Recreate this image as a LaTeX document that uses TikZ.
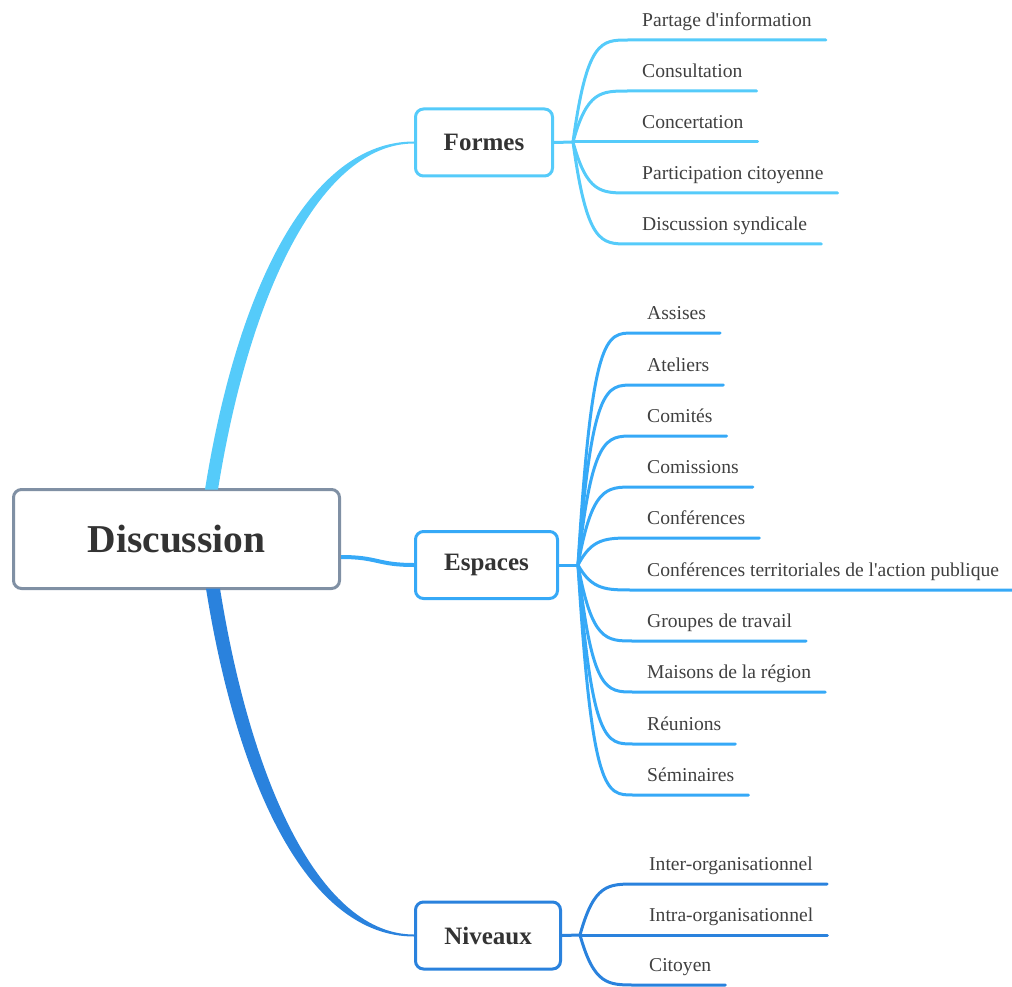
\documentclass[tikz,border=0pt]{standalone}
\usepackage{fontspec}
\setmainfont{Liberation Serif}
\usetikzlibrary{calc}
\definecolor{cF}{HTML}{55CBFA}
\definecolor{cE}{HTML}{36A9F7}
\definecolor{cN}{HTML}{2A82DD}
\definecolor{cD}{HTML}{8090A4}
\definecolor{txt}{HTML}{333333}
\definecolor{txtl}{HTML}{404040}
\begin{document}
\begin{tikzpicture}[x=1pt,y=-1pt,
  root/.style={draw=cD, line width=3pt, rounded corners=8pt, fill=white,
    minimum width=326pt, minimum height=99pt,
    font=\fontsize{39.5}{42}\selectfont\bfseries, text=txt},
  mainbox/.style={line width=3pt, rounded corners=8pt, fill=white,
    minimum height=67pt, font=\fontsize{25}{27}\selectfont\bfseries, text=txt},
  leaf/.style={anchor=south west, inner xsep=14pt, inner ysep=8pt,
    text height=14pt, text depth=5pt, font=\fontsize{19.6}{22}\selectfont, text=txtl},
  leafline/.style={line width=3pt, line cap=round}
]
\useasboundingbox (0,0) rectangle (1012,987);

% main nodes
\node[root] (disc) at (176.5,539) {Discussion};
\node[mainbox, draw=cF, minimum width=137pt] (formes) at (484,142.5) {Formes};
\node[mainbox, draw=cE, minimum width=142pt] (espaces) at (486.5,565) {Espaces};
\node[mainbox, draw=cN, minimum width=145pt] (niveaux) at (488,935.5) {Niveaux};

% main connectors
\fill[cF] ($(disc.north west)+(193,1.5)$) .. controls +(32,-200) and +(-105,0) .. ($(formes.west)+(0,-1)$)
  -- ($(formes.west)+(0,1)$) .. controls +(-92,0) and +(32,-200) .. ($(disc.north west)+(206,1.5)$) -- cycle;
\fill[cN] ($(disc.south west)+(194,-1.5)$) .. controls +(32,200) and +(-105,0) .. ($(niveaux.west)+(0,1)$)
  -- ($(niveaux.west)+(0,-1)$) .. controls +(-92,0) and +(32,200) .. ($(disc.south west)+(208,-1.5)$) -- cycle;
\draw[cE, line width=4pt] ($(disc.east)+(0,18)$) .. controls +(37,0) and +(-37,0) .. (espaces.west);

% branch points
\coordinate (bF) at (573,142);
\coordinate (bE) at (578,565);
\coordinate (bN) at (580,935);
\draw[leafline, cF] (formes.east) -- (bF);
\draw[leafline, cE] (espaces.east) -- (bE);
\draw[leafline, cN] (niveaux.east) -- (bN);

% Formes leaves
\foreach \y/\t [count=\i] in {40/Partage d\textquotesingle{}information, 91/Consultation, 142/Concertation,
  193/Participation citoyenne, 244/Discussion syndicale}{
  \node[leaf] (f\i) at (628,\y) {\t};
  \draw[leafline, cF] (bF) .. controls +(14,\y-142) and +(-27,0) .. (f\i.south west) -- (f\i.south east);
}
% Espaces leaves
\foreach \y/\t [count=\i] in {333/Assises, 385/Ateliers, 436/Comités, 487/Comissions,
  538/Conférences, 590/Conférences territoriales de l\textquotesingle{}action publique, 641/Groupes de travail,
  692/Maisons de la région, 744/Réunions, 795/Séminaires}{
  \node[leaf] (e\i) at (633,\y) {\t};
  \draw[leafline, cE] (bE) .. controls +(14,\y-565) and +(-27,0) .. (e\i.south west) -- (e\i.south east);
}
% Niveaux leaves
\foreach \y/\t [count=\i] in {884/Inter-organisationnel, 935/Intra-organisationnel, 985/Citoyen}{
  \node[leaf] (n\i) at (635,\y) {\t};
  \draw[leafline, cN] (bN) .. controls +(14,\y-935) and +(-27,0) .. (n\i.south west) -- (n\i.south east);
}
\end{tikzpicture}
\end{document}
